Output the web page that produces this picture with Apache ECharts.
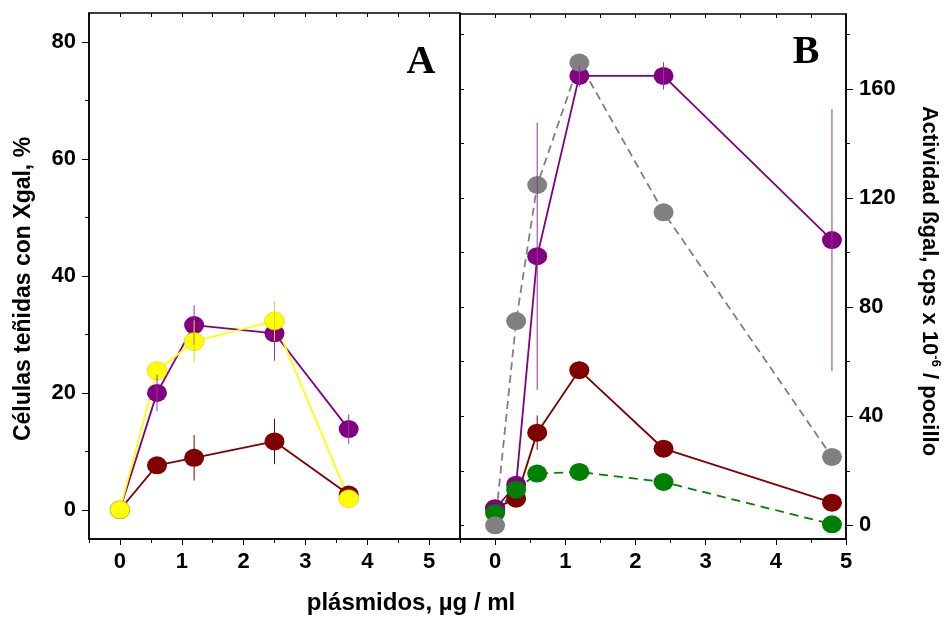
<!DOCTYPE html>
<html><head><meta charset="utf-8">
<script src="https://cdn.jsdelivr.net/npm/echarts@6/dist/echarts.min.js"></script>
<style>html,body{margin:0;padding:0;background:#fff}#c{width:951px;height:619px}</style>
</head><body><div id="c"></div>
<script>
// ---- Panel A data ----
const xA = [0, 0.6, 1.2, 2.5, 3.7];
const aPurple = [0, 20.0, 31.6, 30.2, 13.8];
const aPurpleErr = [0, 3.1, 3.4, 4.7, 2.5];
const aYellow = [0, 23.8, 28.8, 32.3, 1.9];
const aYellowErr = [0, 0, 3.6, 3.4, 0];
const aRed = [0, 7.6, 8.9, 11.7, 2.6];
const aRedErr = [0, 0, 3.9, 3.9, 0];

// ---- Panel B data ----
const xB = [0, 0.3, 0.6, 1.2, 2.4, 4.8];
const bPurple = [6, 14.9, 98.7, 164.8, 164.8, 104.6];
const bPurpleErr = [0, 0, 49, 4, 5, 48];
const bGray = [0, 74.9, 124.8, 169.7, 114.8, 25.1];
const bRed = [6.3, 9.8, 34.0, 56.9, 28.1, 8.3];
const bRedErr = [0, 0, 6.3, 3.3, 0, 0];
const bGreen = [4.5, 13.1, 19.0, 19.6, 15.9, 0.4];

// ---- ticks ----
const xTicksA = [0, 1, 2, 3, 4, 5];
const xMinorA = [-0.5, 0.5, 1.5, 2.5, 3.5, 4.5, 5.5];
const yTicksA = [0, 20, 40, 60, 80];
const yMinorA = [10, 30, 50, 70];
const xTicksB = [0, 1, 2, 3, 4, 5];
const xMinorB = [-0.5, 0.5, 1.5, 2.5, 3.5, 4.5];
const yTicksB = [0, 40, 80, 120, 160];
const yMinorB = [20, 60, 100, 140, 180];

const FONT = 'Liberation Sans';
const BLACK = '#000';

function zip(xs, ys) { return xs.map((x, i) => [x, ys[i]]); }

function xAxisDef(grid, min, max, pos, ticks, len, inside, labels) {
  return {
    type: 'value', gridIndex: grid, min: min, max: max, position: pos,
    axisLine: { show: labels, onZero: false, lineStyle: { color: BLACK, width: 1.5 } },
    splitLine: { show: false },
    axisTick: { show: true, inside: inside, length: len, customValues: ticks, lineStyle: { color: BLACK, width: 1 } },
    axisLabel: labels ? { show: true, customValues: ticks, margin: 12, color: BLACK, fontFamily: FONT, fontWeight: 'bold', fontSize: 22 } : { show: false }
  };
}
function yAxisDef(grid, min, max, pos, ticks, len, inside, labels, margin) {
  return {
    type: 'value', gridIndex: grid, min: min, max: max, position: pos,
    axisLine: { show: labels, onZero: false, lineStyle: { color: BLACK, width: 1.5 } },
    splitLine: { show: false },
    axisTick: { show: true, inside: inside, length: len, customValues: ticks, lineStyle: { color: BLACK, width: 1 } },
    axisLabel: labels ? { show: true, customValues: ticks, margin: margin, color: BLACK, fontFamily: FONT, fontWeight: 'bold', fontSize: 22 } : { show: false }
  };
}

function lineSeries(xs, ys, color, xi, yi, dash, border) {
  return {
    type: 'line', xAxisIndex: xi, yAxisIndex: yi, data: zip(xs, ys),
    symbol: 'circle', symbolSize: [20, 18], showSymbol: true, silent: true, animation: false,
    itemStyle: { color: color, borderColor: border || color, borderWidth: border ? 0.6 : 0, opacity: 1 },
    lineStyle: { color: color, width: 1.8, type: dash || 'solid' },
    z: 2
  };
}
function errSeries(xs, ys, errs, color, xi, yi) {
  return {
    type: 'custom', xAxisIndex: xi, yAxisIndex: yi, silent: true, animation: false, z: 3,
    data: xs.map((x, i) => [x, ys[i], errs[i]]).filter(d => d[2] > 0),
    encode: { x: 0, y: 1 },
    renderItem: function (params, api) {
      const p1 = api.coord([api.value(0), api.value(1) + api.value(2)]);
      const p2 = api.coord([api.value(0), api.value(1) - api.value(2)]);
      return { type: 'line', shape: { x1: p1[0], y1: p1[1], x2: p2[0], y2: p2[1] }, style: { stroke: color, lineWidth: 1 } };
    }
  };
}

const option = {
  animation: false,
  backgroundColor: '#fff',
  grid: [
    { left: 89, top: 13, width: 371, height: 526, show: true, borderColor: BLACK, borderWidth: 1.5, backgroundColor: 'transparent' },
    { left: 460, top: 14, width: 386, height: 525, show: true, borderColor: BLACK, borderWidth: 1.5, backgroundColor: 'transparent' }
  ],
  xAxis: [
    xAxisDef(0, -0.5, 5.5, 'bottom', xTicksA, 6, false, true),     // 0
    xAxisDef(0, -0.5, 5.5, 'bottom', xMinorA, 4, false, false),    // 1
    xAxisDef(0, -0.5, 5.5, 'top', xTicksA.concat(xMinorA), 4, true, false), // 2
    xAxisDef(1, -0.5, 5, 'bottom', xTicksB, 6, false, true),       // 3
    xAxisDef(1, -0.5, 5, 'bottom', xMinorB, 4, false, false),      // 4
    xAxisDef(1, -0.5, 5, 'top', xTicksB.concat(xMinorB), 4, true, false)    // 5
  ],
  yAxis: [
    yAxisDef(0, -5, 85, 'left', yTicksA, 7, false, true, 13),      // 0
    yAxisDef(0, -5, 85, 'left', yMinorA, 4, false, false, 0),      // 1
    yAxisDef(1, -5, 187.5, 'right', yTicksB, 7, false, true, 13),  // 2
    yAxisDef(1, -5, 187.5, 'right', yMinorB, 4, false, false, 0),  // 3
    yAxisDef(1, -5, 187.5, 'left', yTicksB.concat(yMinorB), 4, true, false, 0) // 4
  ],
  series: [
    lineSeries(xA, aRed, '#800000', 0, 0),
    lineSeries(xA, aPurple, '#800080', 0, 0),
    lineSeries(xA, aYellow, '#FFFF00', 0, 0, null, '#d8c800'),
    errSeries(xA, aRed, aRedErr, '#800000', 0, 0),
    errSeries(xA, aPurple, aPurpleErr, '#9a309a', 0, 0),
    errSeries(xA, aYellow, aYellowErr, '#e8d800', 0, 0),

    lineSeries(xB, bRed, '#800000', 3, 2),
    lineSeries(xB, bPurple, '#800080', 3, 2),
    lineSeries(xB, bGreen, '#008000', 3, 2, [9, 6]),
    lineSeries(xB, bGray, '#808080', 3, 2, [8, 5]),
    errSeries(xB, bRed, bRedErr, '#800000', 3, 2),
    errSeries(xB, bPurple, bPurpleErr, '#9a309a', 3, 2)
  ],
  graphic: [
    { type: 'text', x: 421, y: 63, style: { text: 'A', font: 'bold 40px "Liberation Serif"', fill: BLACK, align: 'center', verticalAlign: 'middle' } },
    { type: 'text', x: 806, y: 53, style: { text: 'B', font: 'bold 40px "Liberation Serif"', fill: BLACK, align: 'center', verticalAlign: 'middle' } },
    { type: 'text', x: 24, y: 289, rotation: Math.PI / 2, style: { text: 'Células teñidas con Xgal, %', font: 'bold 23px "Liberation Sans"', fill: BLACK, align: 'center', verticalAlign: 'middle' } },
    { type: 'text', x: 411, y: 603, style: { text: 'plásmidos, µg / ml', font: 'bold 24px "Liberation Sans"', fill: BLACK, align: 'center', verticalAlign: 'middle' } },
    { type: 'text', x: 929, y: 281, rotation: -Math.PI / 2, style: {
        text: '{n|Actividad ßgal, cps x 10}{s|-6}{n| / pocillo}',
        align: 'center', verticalAlign: 'middle',
        rich: {
          n: { font: 'bold 22px "Liberation Sans"', fill: BLACK, lineHeight: 26 },
          s: { font: 'bold 13px "Liberation Sans"', fill: BLACK, verticalAlign: 'top', lineHeight: 26 }
        }
      } }
  ]
};

const chart = echarts.init(document.getElementById('c'), null, { renderer: 'canvas' });
chart.setOption(option);
</script>
</body></html>
